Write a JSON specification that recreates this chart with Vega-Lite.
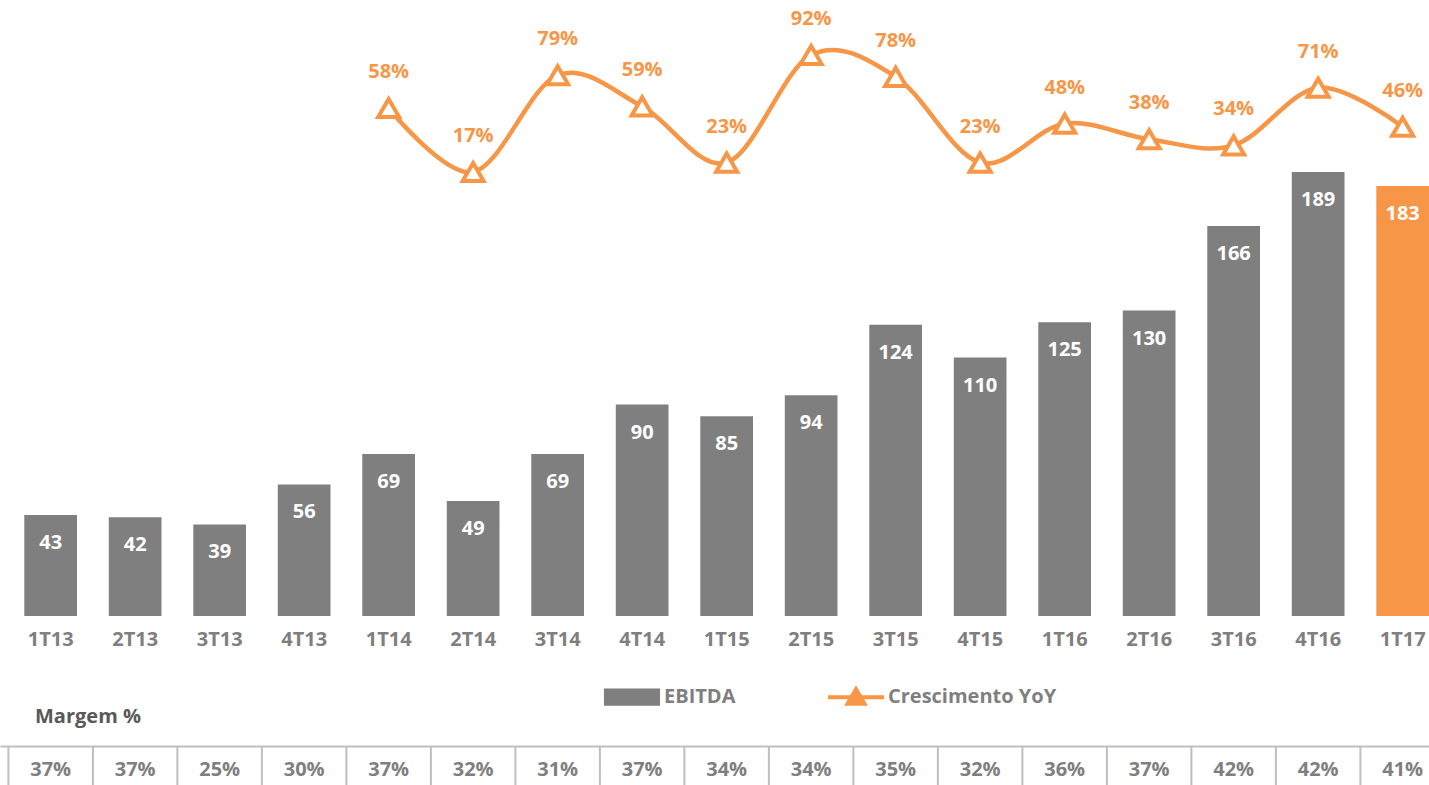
{
  "$schema": "https://vega.github.io/schema/vega-lite/v6.json",
  "padding": 0,
  "background": "white",
  "spacing": 58,
  "config": {"view": {"stroke": null}, "font": "Open Sans"},
  "datasets": {
    "q": [
      {"q": "1T13", "ebitda": 43, "yoy": null, "margem": 0.37},
      {"q": "2T13", "ebitda": 42, "yoy": null, "margem": 0.37},
      {"q": "3T13", "ebitda": 39, "yoy": null, "margem": 0.25},
      {"q": "4T13", "ebitda": 56, "yoy": null, "margem": 0.30},
      {"q": "1T14", "ebitda": 69, "yoy": 0.58, "margem": 0.37},
      {"q": "2T14", "ebitda": 49, "yoy": 0.17, "margem": 0.32},
      {"q": "3T14", "ebitda": 69, "yoy": 0.79, "margem": 0.31},
      {"q": "4T14", "ebitda": 90, "yoy": 0.59, "margem": 0.37},
      {"q": "1T15", "ebitda": 85, "yoy": 0.23, "margem": 0.34},
      {"q": "2T15", "ebitda": 94, "yoy": 0.92, "margem": 0.34},
      {"q": "3T15", "ebitda": 124, "yoy": 0.78, "margem": 0.35},
      {"q": "4T15", "ebitda": 110, "yoy": 0.23, "margem": 0.32},
      {"q": "1T16", "ebitda": 125, "yoy": 0.48, "margem": 0.36},
      {"q": "2T16", "ebitda": 130, "yoy": 0.38, "margem": 0.37},
      {"q": "3T16", "ebitda": 166, "yoy": 0.34, "margem": 0.42},
      {"q": "4T16", "ebitda": 189, "yoy": 0.71, "margem": 0.42},
      {"q": "1T17", "ebitda": 183, "yoy": 0.46, "margem": 0.41}
    ]
  },
  "vconcat": [
    {
      "width": 1429,
      "height": 616,
      "data": {"name": "q"},
      "encoding": {
        "x": {
          "field": "q", "type": "nominal", "sort": null,
          "scale": {"paddingInner": 0.3763, "paddingOuter": 0.1437, "align": 1},
          "axis": {"title": null, "domain": false, "ticks": false, "labelAngle": 0, "labelFontSize": 20, "labelFontWeight": "bold", "labelColor": "#7F7F7F", "labelPadding": 13, "labelFont": "Open Sans"}
        }
      },
      "layer": [
        {
          "encoding": {
            "y": {"field": "ebitda", "type": "quantitative", "scale": {"domain": [0, 262.2], "nice": false, "zero": false}, "axis": null}
          },
          "layer": [
            {
              "mark": {"type": "bar"},
              "encoding": {
                "color": {
                  "datum": "EBITDA",
                  "condition": {"test": "datum.q === '1T17'", "value": "#F79646"},
                  "scale": {"domain": ["EBITDA", "Crescimento YoY"], "range": ["#7F7F7F", "#F79646"]},
                  "legend": {
                    "orient": "none", "legendX": 602, "legendY": 667, "direction": "horizontal", "title": null,
                    "labelFontSize": 20, "labelFont": "Open Sans", "labelFontWeight": "bold", "labelColor": "#7F7F7F",
                    "labelOffset": 2, "labelLimit": 400, "columnPadding": 84, "symbolSize": 3136, "symbolStrokeWidth": 4,
                    "encode": {
                      "symbols": {
                        "update": {
                          "shape": {"signal": "datum.value === 'EBITDA' ? 'M-0.93,-0.24H0.93V0.24H-0.93Z' : 'M-1,0H-0.15M0.15,0H1M-0.3,0.24L0,-0.28L0.3,0.24Z'"},
                          "fill": {"signal": "datum.value === 'EBITDA' ? '#7F7F7F' : '#FFFFFF'"},
                          "stroke": {"signal": "datum.value === 'EBITDA' ? 'transparent' : '#F79646'"},
                          "strokeWidth": {"value": 4},
                          "opacity": {"value": 1}
                        }
                      }
                    }
                  }
                }
              }
            },
            {
              "mark": {"type": "text", "color": "white", "fontSize": 20, "fontWeight": "bold", "baseline": "middle", "dy": 28, "font": "Open Sans"},
              "encoding": {"text": {"field": "ebitda", "type": "quantitative"}}
            }
          ]
        },
        {
          "transform": [{"filter": "isValid(datum.yoy)"}],
          "encoding": {
            "y": {"field": "yoy", "type": "quantitative", "scale": {"domain": [-2.676, 1.2724], "nice": false, "zero": false}, "axis": null}
          },
          "layer": [
            {
              "mark": {"type": "line", "interpolate": "cardinal", "strokeWidth": 4.5},
              "encoding": {"color": {"datum": "Crescimento YoY"}}
            },
            {
              "mark": {"type": "point", "shape": "triangle-up", "size": 441, "fill": "white", "stroke": "#F79646", "strokeWidth": 4, "opacity": 1, "filled": false}
            },
            {
              "mark": {"type": "text", "color": "#F79646", "fontSize": 20, "fontWeight": "bold", "baseline": "middle", "dy": -36, "font": "Open Sans"},
              "encoding": {"text": {"field": "yoy", "type": "quantitative", "format": ".0%"}}
            }
          ]
        }
      ],
      "resolve": {"scale": {"y": "independent"}}
    },
    {
      "width": 1429,
      "height": 39,
      "title": {"text": "Margem %", "anchor": "start", "frame": "group", "dx": 35, "fontSize": 20, "fontWeight": "bold", "color": "#595959", "font": "Open Sans", "baseline": "alphabetic", "offset": 2},
      "data": {"name": "q"},
      "encoding": {
        "x": {
          "field": "q", "type": "nominal", "sort": null,
          "scale": {"paddingInner": 0.3763, "paddingOuter": 0.1437, "align": 1},
          "axis": {"orient": "top", "title": null, "domain": true, "domainColor": "#BFBFBF", "domainWidth": 2, "labels": false, "ticks": false, "grid": false}
        }
      },
      "layer": [
        {
          "mark": {"type": "rule", "color": "#BFBFBF", "strokeWidth": 2},
          "encoding": {
            "x": {
              "field": "q", "type": "nominal", "sort": null, "bandPosition": -0.3017,
              "axis": {"orient": "top", "title": null, "domain": true, "domainColor": "#BFBFBF", "domainWidth": 2, "labels": false, "ticks": false, "grid": false}
            }
          }
        },
        {
          "mark": {"type": "text", "fontSize": 20, "fontWeight": "bold", "color": "#7F7F7F", "baseline": "middle", "dy": 4, "font": "Open Sans"},
          "encoding": {"text": {"field": "margem", "type": "quantitative", "format": ".0%"}}
        }
      ]
    }
  ]
}
